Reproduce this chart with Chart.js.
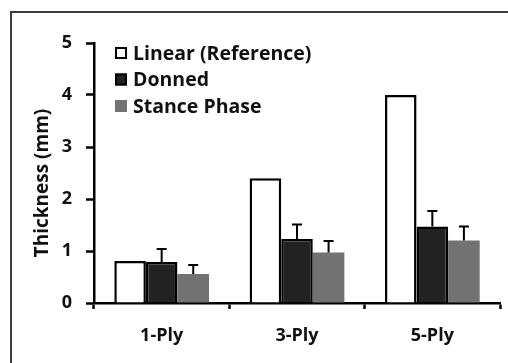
<!DOCTYPE html>
<html>
<head>
<meta charset="utf-8">
<script src="https://cdn.jsdelivr.net/npm/chart.js@4.4.1/dist/chart.umd.min.js"></script>
<style>
  html, body { margin: 0; padding: 0; background: #fff; }
  #wrap { width: 508px; height: 363px; }
</style>
</head>
<body>
<div id="wrap"><canvas id="chart" width="508" height="363"></canvas></div>
<script>
const categories = ['1-Ply', '3-Ply', '5-Ply'];
const linearRef = [0.81, 2.4, 4.0];
const donned = [0.79, 1.23, 1.47];
const stance = [0.56, 0.97, 1.2];
const donnedErr = [0.25, 0.28, 0.30];
const stanceErr = [0.17, 0.22, 0.27];

const FONT = '"Open Sans", Lato, sans-serif';

// frame around the figure (top and left edges only are visible)
const framePlugin = {
  id: 'frame',
  beforeDraw(chart) {
    const ctx = chart.ctx;
    ctx.save();
    ctx.strokeStyle = '#3c3c3c';
    ctx.lineWidth = 2;
    ctx.beginPath();
    ctx.moveTo(11, 363);
    ctx.lineTo(11, 12);
    ctx.lineTo(508, 12);
    ctx.stroke();
    ctx.restore();
  }
};

// upward-only error bars with a cap
const errorBarPlugin = {
  id: 'errorBars',
  afterDatasetsDraw(chart) {
    const ctx = chart.ctx;
    const yScale = chart.scales.y;
    ctx.save();
    ctx.strokeStyle = '#000';
    ctx.lineWidth = 2;
    chart.data.datasets.forEach((ds, di) => {
      if (!ds.errors) return;
      const meta = chart.getDatasetMeta(di);
      meta.data.forEach((bar, i) => {
        const top = yScale.getPixelForValue(ds.data[i] + ds.errors[i]);
        ctx.beginPath();
        ctx.moveTo(bar.x, bar.y);
        ctx.lineTo(bar.x, top);
        ctx.moveTo(bar.x - 5, top);
        ctx.lineTo(bar.x + 5, top);
        ctx.stroke();
      });
    });
    ctx.restore();
  }
};

// legend inside the plot (top-left) and the y axis title
const innerLegend = {
  id: 'innerLegend',
  afterDraw(chart) {
    const ctx = chart.ctx;
    ctx.save();
    ctx.font = 'bold 19.5px ' + FONT;
    ctx.textBaseline = 'middle';
    chart.data.datasets.forEach((ds, i) => {
      const y = 53 + i * 26.5;
      const x = 115;
      ctx.fillStyle = ds.backgroundColor;
      ctx.fillRect(x, y - 6, 12, 12);
      if (ds.borderWidth) {
        ctx.strokeStyle = '#000';
        ctx.lineWidth = 2;
        ctx.strokeRect(x + 1, y - 5, 10, 10);
      }
      ctx.fillStyle = '#111';
      ctx.fillText(ds.label, 133, y + 1);
    });

    ctx.font = 'bold 19px ' + FONT;
    ctx.translate(43, 183);
    ctx.rotate(-Math.PI / 2);
    ctx.textAlign = 'center';
    ctx.fillText(chart.options.scales.y.title.text, 0, 0);
    ctx.restore();
  }
};

new Chart(document.getElementById('chart'), {
  type: 'bar',
  data: {
    labels: categories,
    datasets: [
      { label: 'Linear (Reference)', data: linearRef, backgroundColor: '#ffffff', borderColor: '#000', borderWidth: 2.5 },
      { label: 'Donned', data: donned, errors: donnedErr, backgroundColor: '#222222', borderColor: '#000', borderWidth: 2.5 },
      { label: 'Stance Phase', data: stance, errors: stanceErr, backgroundColor: '#727272', borderWidth: 0 }
    ]
  },
  options: {
    responsive: false,
    animation: false,
    categoryPercentage: 0.7,
    barPercentage: 1.0,
    layout: { padding: { left: 0, right: 8, top: 43, bottom: 0 } },
    plugins: {
      legend: { display: false },
      tooltip: { enabled: false }
    },
    scales: {
      x: {
        offset: true,
        grid: { offset: true, drawOnChartArea: false, tickLength: 6, tickWidth: 2.5, tickColor: '#000' },
        border: { color: '#000', width: 2.5 },
        ticks: { color: '#111', padding: 16, font: { family: FONT, size: 18, weight: 'bold' } },
        afterFit(scale) { scale.height = 60; }
      },
      y: {
        min: 0,
        max: 5,
        ticks: { stepSize: 1, color: '#111', padding: 14, font: { family: FONT, size: 18, weight: 'bold' } },
        grid: { drawOnChartArea: false, tickLength: 8, tickWidth: 2.5, tickColor: '#000' },
        border: { color: '#000', width: 2.5 },
        title: { display: false, text: 'Thickness (mm)' },
        afterFit(scale) { scale.width = 94; }
      }
    }
  },
  plugins: [framePlugin, errorBarPlugin, innerLegend]
});
</script>
</body>
</html>
